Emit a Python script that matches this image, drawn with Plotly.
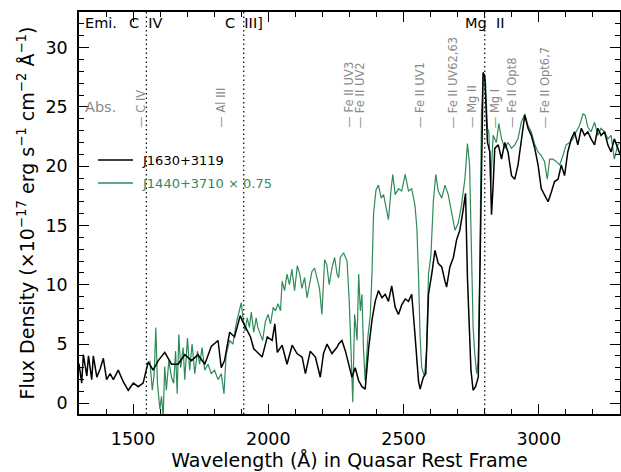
import plotly.graph_objects as go

# ---------------- data ----------------
wave_j1630 = [1300,1310,1316,1329,1335,1347,1353,1366,1378,1390,
              1402,1415,1427,1445,1464,1482,1501,1519,1537,1550,
              1556,1574,1593,1617,1642,1666,1691,1716,1740,1765,
              1789,1814,1826,1838,1857,1875,1896,1903,1916,1934,
              1946,1965,1977,1996,2014,2024,2033,2051,2069,2088,
              2106,2125,2137,2155,2174,2192,2204,2217,2235,2253,
              2260,2272,2285,2297,2309,2321,2334,2346,2358,2371,
              2383,2395,2407,2420,2432,2444,2456,2469,2481,2493,
              2506,2518,2530,2540,2549,2555,2561,2573,2582,2592,
              2604,2616,2628,2641,2653,2659,2671,2684,2696,2708,
              2720,2729,2736,2741,2749,2757,2766,2776,2786,2794,
              2800,2803,2810,2819,2825,2831,2837,2850,2862,2874,
              2886,2899,2911,2923,2935,2948,2960,2972,2985,2997,
              3009,3021,3034,3046,3058,3071,3083,3095,3107,3120,
              3132,3144,3157,3169,3181,3193,3206,3218,3230,3243,
              3255,3267,3279,3292,3300]
flux_j1630 = [3.35,1.7,4.1,2.3,4.0,2.0,4.0,2.2,2.9,3.8,
              2.0,2.5,2.0,2.8,1.8,1.1,1.7,1.4,1.7,2.9,
              3.5,2.8,3.6,4.3,3.3,3.3,4.1,3.6,4.1,3.3,
              4.8,5.3,3.0,3.6,6.0,5.6,7.4,7.0,6.4,5.6,
              4.6,4.2,3.9,5.6,5.3,6.7,4.3,4.9,3.3,4.9,
              4.2,3.9,2.5,4.4,3.9,2.2,4.2,5.0,4.2,4.7,
              5.0,5.3,4.4,3.3,2.2,3.0,1.9,1.4,1.2,4.7,
              7.0,8.6,9.5,8.9,9.2,8.6,9.9,8.1,7.5,8.3,
              8.8,8.6,9.2,6.4,3.6,1.9,1.2,2.2,2.5,9.2,
              10.9,12.9,11.8,11.5,10.3,9.8,11.5,12.3,13.8,14.6,
              16.3,17.7,10.6,7.0,2.8,1.1,1.4,2.2,14.8,27.9,
              27.6,26.2,22.0,21.2,15.9,18.4,21.5,21.8,20.6,22.0,
              21.2,19.2,18.9,20.1,22.3,24.3,23.2,22.6,21.5,20.1,
              18.1,17.6,17.0,17.8,18.7,18.9,20.1,19.2,21.2,22.3,
              22.9,21.8,23.2,22.6,22.9,22.3,21.8,23.2,22.6,22.9,
              21.8,21.2,22.3,21.5,21.0]

wave_j1440 = [1562,1571,1578,1584,1590,1599,1605,1611,1617,1623,
              1632,1642,1650,1657,1663,1669,1676,1685,1691,1701,
              1709,1718,1728,1738,1746,1755,1765,1777,1789,1801,
              1814,1826,1836,1844,1857,1869,1881,1890,1900,1906,
              1914,1922,1930,1937,1946,1955,1961,1979,1989,1999,
              2008,2018,2026,2036,2045,2051,2060,2069,2078,2087,
              2097,2107,2116,2124,2134,2143,2151,2161,2171,2180,
              2189,2198,2208,2216,2225,2235,2245,2254,2260,2266,
              2278,2291,2299,2307,2312,2319,2328,2334,2340,2346,
              2352,2358,2368,2377,2383,2389,2398,2407,2417,2426,
              2438,2444,2454,2460,2469,2481,2493,2506,2518,2530,
              2542,2549,2555,2561,2567,2577,2585,2592,2601,2610,
              2619,2628,2641,2653,2665,2678,2690,2702,2714,2727,
              2736,2744,2751,2757,2763,2770,2776,2782,2788,2795,
              2803,2810,2815,2822,2831,2843,2852,2862,2874,2886,
              2899,2911,2923,2935,2948,2960,2972,2985,2997,3009,
              3021,3031,3040,3052,3064,3077,3089,3101,3114,3126,
              3138,3150,3163,3171,3181,3193,3206,3218,3230,3243,
              3255,3267,3279,3292,3300]
flux_j1440 = [3.6,1.1,2.5,6.4,1.7,-0.5,0.6,-1.2,3.1,1.1,
              3.6,2.2,1.7,4.4,0.8,5.8,3.0,4.7,2.0,5.5,
              2.8,5.0,2.5,4.4,3.3,4.7,2.8,3.3,2.5,2.8,
              2.0,2.5,0.8,4.1,5.3,5.0,6.7,7.5,8.5,7.2,
              6.1,7.2,6.4,7.7,6.0,7.2,6.4,5.3,6.9,7.5,
              6.7,8.1,7.8,8.4,7.8,10.3,9.5,10.9,10.0,11.3,
              9.5,11.6,10.9,9.7,10.6,8.9,10.0,11.1,11.4,10.6,
              9.7,7.5,12.1,11.7,10.0,11.4,12.3,10.9,10.6,12.3,
              12.7,12.0,8.6,3.6,0.1,7.5,5.3,10.9,7.8,9.2,
              4.4,1.9,5.6,7.5,10.9,16.0,18.0,18.4,17.3,17.6,
              16.0,15.5,18.1,19.3,17.6,18.1,17.9,19.3,17.9,18.1,
              16.7,14.8,10.9,5.6,3.0,2.3,4.4,10.9,12.5,17.0,
              19.3,17.9,17.3,18.4,17.6,16.0,14.6,15.2,16.7,19.0,
              21.9,20.1,13.1,6.4,4.2,2.5,3.6,12.0,24.6,27.9,
              27.1,23.2,22.9,18.4,22.6,22.0,23.6,22.3,21.5,22.0,
              21.5,21.8,22.3,23.7,24.4,23.4,22.9,21.8,21.2,20.9,
              20.4,18.9,20.6,20.6,20.4,20.1,20.9,21.8,22.0,22.3,
              22.9,23.4,24.4,24.3,23.3,22.9,23.7,22.6,23.2,22.9,
              22.3,22.6,20.6,21.8,22.0]

series_names = ["J1630+3119", "J1440+3710 \u00d7 0.75"]

emi_labels = ["C\u00a0\u00a0IV", "C\u00a0\u00a0III]", "Mg\u00a0\u00a0II"]
emi_waves = [1549, 1909, 2800]

abs_labels = ["\u2014 C IV", "\u2014 Al III", "\u2014 Fe II UV3", "\u2014 Fe II UV2",
              "\u2014 Fe II UV1", "\u2014 Fe II UV62,63", "\u2014 Mg II", "\u2014 Mg I",
              "\u2014 Fe II Opt8", "\u2014 Fe II Opt6,7"]
abs_waves = [1529, 1824, 2297, 2340, 2561, 2684, 2751, 2837, 2899, 3022]

x_ticks = [1500, 2000, 2500, 3000]
y_ticks = [0, 5, 10, 15, 20, 25, 30]

# ---------------- styling ----------------
FONT = "DejaVu Sans"
GREEN = "#2e8b57"
GRAY = "#8a8a8a"
W, H = 621, 472
L, R, T, B = 79, 1, 12, 58
PW, PH = W - L - R, H - T - B


def px(xp):
    return (xp - L) / PW


def py(yp):
    return (H - B - yp) / PH


fig = go.Figure()
fig.add_trace(go.Scatter(x=wave_j1440, y=flux_j1440, mode="lines",
                         line=dict(color=GREEN, width=1.2), showlegend=False))
fig.add_trace(go.Scatter(x=wave_j1630, y=flux_j1630, mode="lines",
                         line=dict(color="black", width=1.5), showlegend=False))

shapes = []
for wv in emi_waves:
    shapes.append(dict(type="line", xref="x", yref="paper", x0=wv, x1=wv, y0=0, y1=1,
                       line=dict(color="black", width=1.2, dash="1.5px,3px")))
# legend swatches
shapes.append(dict(type="line", xref="paper", yref="paper", x0=px(98), x1=px(133),
                   y0=py(160), y1=py(160), line=dict(color="black", width=1.3)))
shapes.append(dict(type="line", xref="paper", yref="paper", x0=px(98), x1=px(133),
                   y0=py(183), y1=py(183), line=dict(color=GREEN, width=1.3)))

ann = []
ann.append(dict(text="Emi.", xref="paper", yref="paper", x=px(83), y=py(23),
                xanchor="left", yanchor="middle", showarrow=False,
                font=dict(family=FONT, size=14.5, color="black")))
ann.append(dict(text="Abs.", xref="paper", yref="paper", x=px(83), y=py(107),
                xanchor="left", yanchor="middle", showarrow=False,
                font=dict(family=FONT, size=14.5, color=GRAY)))
for lab, wv in zip(emi_labels, emi_waves):
    ann.append(dict(text=lab, xref="x", yref="paper", x=wv, y=py(23),
                    xanchor="center", yanchor="middle", showarrow=False,
                    font=dict(family=FONT, size=14.5, color="black")))
for lab, wv in zip(abs_labels, abs_waves):
    ann.append(dict(text=lab, xref="x", yref="paper", x=wv, y=py(130),
                    xanchor="center", yanchor="bottom", textangle=-90, showarrow=False,
                    font=dict(family=FONT, size=11.5, color=GRAY)))
ann.append(dict(text=series_names[0], xref="paper", yref="paper", x=px(140), y=py(160),
                xanchor="left", yanchor="middle", showarrow=False,
                font=dict(family=FONT, size=13, color="black")))
ann.append(dict(text=series_names[1], xref="paper", yref="paper", x=px(140), y=py(183),
                xanchor="left", yanchor="middle", showarrow=False,
                font=dict(family=FONT, size=13, color=GREEN)))

axis_common = dict(showline=True, linecolor="black", linewidth=1.5, mirror="allticks",
                   ticks="inside", tickcolor="black", tickwidth=1.2, showgrid=False,
                   zeroline=False, tickfont=dict(family=FONT, size=17.5, color="black"))

fig.update_layout(
    width=W, height=H, margin=dict(l=L, r=R, t=T, b=B, autoexpand=False),
    paper_bgcolor="white", plot_bgcolor="white",
    shapes=shapes, annotations=ann, showlegend=False,
    xaxis=dict(range=[1300, 3300], tickvals=x_ticks, ticklen=10, ticklabelstandoff=8,
               minor=dict(dtick=100, ticks="inside", ticklen=5, tickcolor="black", showgrid=False),
               title=dict(text="Wavelength (\u00c5) in Quasar Rest Frame", standoff=6,
                          font=dict(family=FONT, size=19, color="black")),
               **axis_common),
    yaxis=dict(range=[-0.9, 33.0], tickvals=y_ticks, ticklen=10, ticklabelstandoff=6,
               minor=dict(dtick=1, ticks="inside", ticklen=5, tickcolor="black", showgrid=False),
               title=dict(text="Flux Density (\u00d710<sup>\u221217</sup> erg s<sup>\u22121</sup> cm<sup>\u22122</sup> \u00c5<sup>\u22121</sup>)",
                          standoff=6, font=dict(family=FONT, size=19, color="black")),
               **axis_common),
)

fig.write_html("out.html")
